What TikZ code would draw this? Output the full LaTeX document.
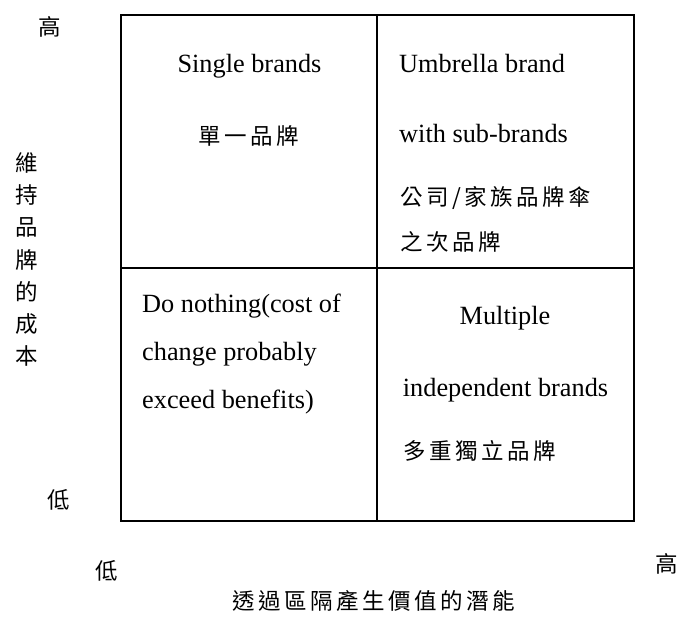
\documentclass[tikz,border=0pt]{standalone}
\usepackage{fontspec}
\setmainfont{Liberation Serif}
\newfontfamily\cjk{Noto Sans CJK TC}
\makeatletter
\newcommand\sptext[1]{\def\sp@first{1}\@tfor\sp@c:=#1\do{\ifx\sp@first\@empty\hspace{3.5pt}\fi\sp@c\let\sp@first\@empty}}
\makeatother
\begin{document}
\begin{tikzpicture}[x=1pt,y=-1pt,
  gridline/.style={line width=1.7pt, line cap=rect},
  en/.style={font=\fontsize{26.3}{30}\selectfont, inner sep=0pt, anchor=base},
  enl/.style={en, anchor=base west},
  cj/.style={font=\cjk\fontsize{22.5}{26}\selectfont, inner sep=0pt, anchor=base},
  cjl/.style={cj, anchor=base west}]
\useasboundingbox (0,0) rectangle (680,617);
% grid
\coordinate (tl) at (121,15);
\coordinate (br) at (634,521);
\coordinate (mt) at (377,15);
\coordinate (mb) at (377,521);
\coordinate (ml) at (121,268);
\coordinate (mr) at (634,268);
\draw[gridline] (tl) rectangle (br);
\draw[gridline] (mt) -- (mb);
\draw[gridline] (ml) -- (mr);
% upper left
\node[en] (sb) at (249.5,73) {Single brands};
\node[cj] (sbz) at (249,144.5) {\sptext{單一品牌}};
% upper right
\node[enl] (ub) at (399,73) {Umbrella brand};
\node[enl] (ws) at (399,143) {with sub-brands};
\node[cjl] (gs) at (400,205.5) {\sptext{公司/家族品牌傘}};
\node[cjl] (zc) at (400,250.5) {\sptext{之次品牌}};
% lower left
\node[enl] (dn1) at (142,313) {Do nothing(cost of};
\node[enl] (dn2) at (142,361) {change probably};
\node[enl] (dn3) at (142,408) {exceed benefits)};
% lower right
\node[en] (mu1) at (505,325) {Multiple};
\node[en] (mu2) at (505.5,397) {independent brands};
\node[cjl] (mu3) at (403,459.5) {\sptext{多重獨立品牌}};
% axis labels
\node[cj] (yhi) at (50,35.5) {高};
\node[cj] (ylo) at (59,508.5) {低};
\node[cj] (xlo) at (106.5,579.5) {低};
\node[cj] (xhi) at (667,572.5) {高};
\node[cj] (xt) at (374,609.5) {\sptext{透過區隔產生價值的潛能}};
\foreach \c [count=\i from 0] in {維,持,品,牌,的,成,本}
  \node[cj] (yt\i) at (27,{171.5+32.2*\i}) {\c};
\end{tikzpicture}
\end{document}
